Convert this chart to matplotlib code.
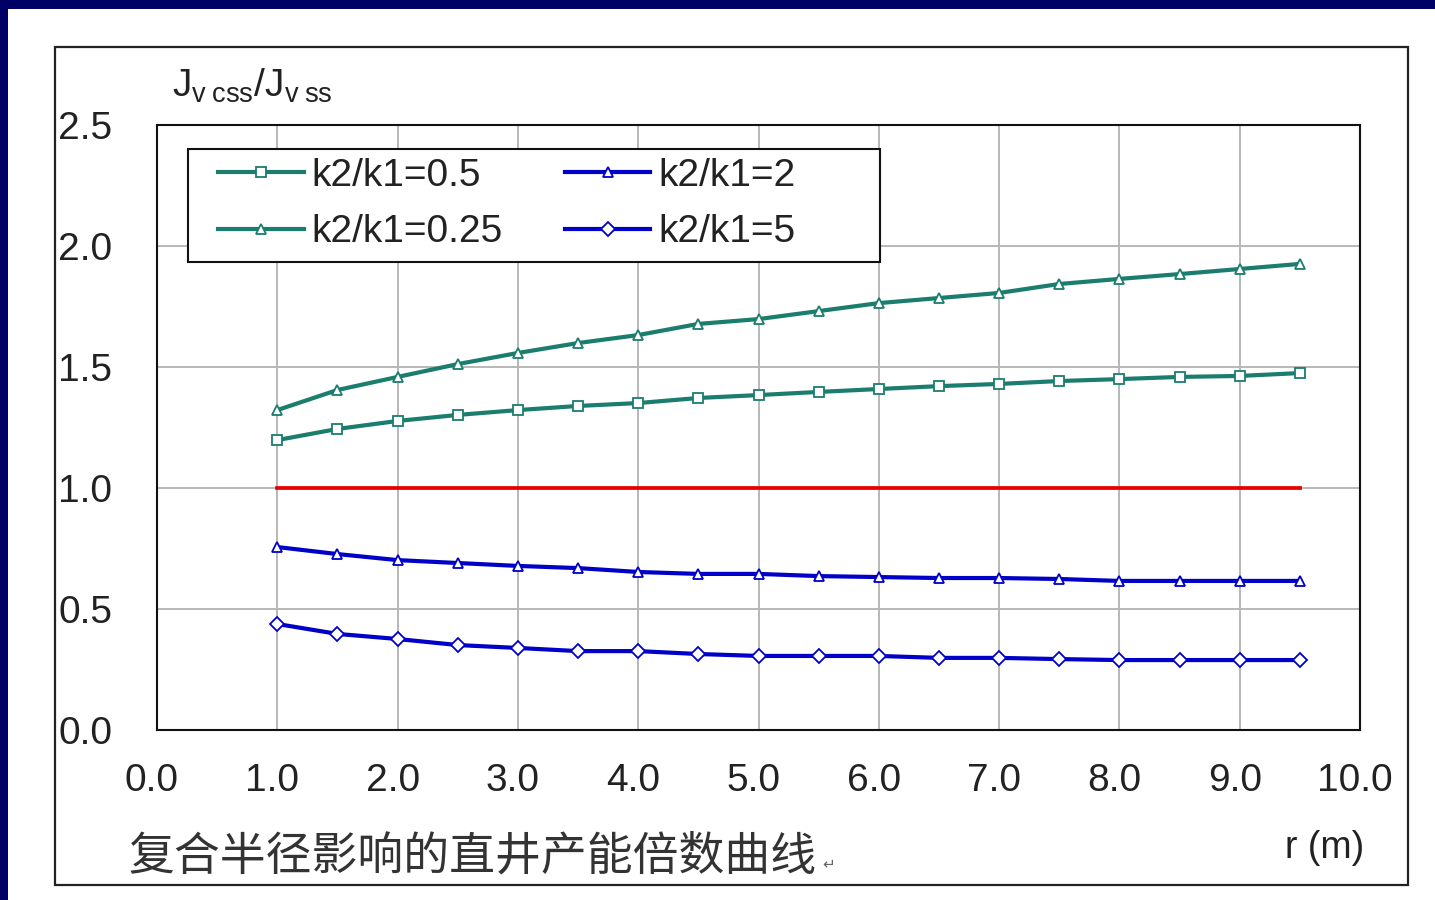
import matplotlib as mpl
mpl.use('agg')
import matplotlib.pyplot as plt
from matplotlib.patches import Rectangle
import matplotlib.transforms as mtransforms
import numpy as np

plt.rcParams['font.family'] = ['Liberation Sans', 'Noto Sans CJK SC', 'DejaVu Sans']
plt.rcParams['mathtext.fontset'] = 'custom'
plt.rcParams['mathtext.rm'] = 'Liberation Sans'
plt.rcParams['mathtext.it'] = 'Liberation Sans'

# radius r (m) and productivity ratio for each permeability contrast
r = [1.0, 1.5, 2.0, 2.5, 3.0, 3.5, 4.0, 4.5, 5.0, 5.5, 6.0, 6.5, 7.0, 7.5, 8.0, 8.5, 9.0, 9.5]
k_05 = [1.198, 1.244, 1.277, 1.302, 1.322, 1.339, 1.351, 1.372, 1.384,
        1.397, 1.409, 1.421, 1.430, 1.442, 1.450, 1.459, 1.463, 1.475]
k_025 = [1.322, 1.405, 1.459, 1.512, 1.558, 1.599, 1.632, 1.678, 1.698,
         1.731, 1.764, 1.785, 1.806, 1.843, 1.864, 1.884, 1.905, 1.926]
k_2 = [0.756, 0.727, 0.702, 0.690, 0.678, 0.669, 0.653, 0.645, 0.645,
       0.636, 0.632, 0.628, 0.628, 0.624, 0.616, 0.616, 0.616, 0.616]
k_5 = [0.438, 0.397, 0.376, 0.351, 0.339, 0.326, 0.326, 0.314, 0.306,
       0.306, 0.306, 0.298, 0.298, 0.293, 0.289, 0.289, 0.289, 0.289]
ref_x = [1.0, 9.5]
ref_y = [1.0, 1.0]

xticks = [0, 1, 2, 3, 4, 5, 6, 7, 8, 9, 10]
yticks = [0.0, 0.5, 1.0, 1.5, 2.0, 2.5]

teal = '#1b7d6e'
blue = '#0000c8'
red = '#e80000'

W, H = 1435., 900.
fig = plt.figure(figsize=(W/100, H/100), dpi=100, facecolor='#000066')

# white slide panel and the black frame round the chart
fig.patches.append(Rectangle((8/W, 0), 1, 1-9/H, transform=fig.transFigure,
                             fc='white', ec='none', zorder=-2))
fig.patches.append(Rectangle((55/W, 1-885/H), (1408-55)/W, (885-47)/H,
                             transform=fig.transFigure, fc='none', ec='#222222',
                             lw=1.6, zorder=-1))

ax = fig.add_axes([157/W, 1-730/H, (1360-157)/W, (730-125)/H])
ax.set_zorder(2)
ax.set_facecolor('white')

mk = dict(markersize=7.5, markerfacecolor='white', markeredgewidth=1.3, lw=3.0)
ax.plot(r, k_05, color=teal, marker='s', label='k2/k1=0.5', **mk)
ax.plot(r, k_025, color=teal, marker='^', label='k2/k1=0.25', **mk)
ax.plot(r, k_2, color=blue, marker='^', label='k2/k1=2', **mk)
ax.plot(r, k_5, color=blue, marker='D', label='k2/k1=5', **mk)
ax.plot(ref_x, ref_y, color=red, lw=2.7, zorder=3)

ax.set_xlim(0, 10)
ax.set_ylim(0, 2.5)
ax.set_xticks(xticks)
ax.set_yticks(yticks)
ax.set_xticklabels(['%.1f' % v for v in xticks])
ax.set_yticklabels(['%.1f' % v for v in yticks])
ax.grid(True, color='#b8b8b8', lw=1.4)
ax.set_axisbelow(True)
for s in ax.spines.values():
    s.set_color('#111111')
    s.set_linewidth(1.5)

ax.tick_params(axis='both', length=0, labelsize=28, colors='#222222')
ax.tick_params(axis='x', pad=24)
ax.tick_params(axis='y', pad=71)
for lbl in ax.get_yticklabels():
    lbl.set_ha('left')
shift = mtransforms.ScaledTranslation(-5/100, 0, fig.dpi_scale_trans)
for lbl in ax.get_xticklabels():
    lbl.set_transform(lbl.get_transform() + shift)

# legend box drawn by hand so the padding can differ left/top
ax.add_patch(Rectangle((31/1203, (730-262)/605), 692/1203, 113/605,
                       transform=ax.transAxes, fc='white', ec='#111111',
                       lw=1.5, zorder=4))
leg = ax.legend(ncol=2, loc='upper left', bbox_to_anchor=(61/1203, (730-158)/605),
                borderaxespad=0, borderpad=0, fontsize=28, handlelength=2.2,
                handletextpad=0.2, columnspacing=1.6, labelspacing=0.52,
                frameon=False)
leg.set_zorder(5)
for t in leg.get_texts():
    t.set_color('#222222')

# axis titles and caption sit on the figure
fig.text(172/W, 1-97/H, r'$\mathrm{J_{v\;css}/J_{v\;ss}}$', fontsize=28,
         color='#222222', va='baseline')
fig.text(1285/W, 1-858/H, 'r (m)', fontsize=27, color='#222222', va='baseline')
fig.text(128/W, 1-870/H, '复合半径影响的直井产能倍数曲线',
         family=['Noto Sans CJK SC', 'DejaVu Sans'], fontsize=33,
         color='#333333', va='baseline')
fig.text(822/W, 1-868/H, '↵', family=['DejaVu Sans'], fontsize=11,
         color='#666666', va='baseline')

plt.savefig('out.png', dpi=100, facecolor=fig.get_facecolor())
plt.close(fig)
